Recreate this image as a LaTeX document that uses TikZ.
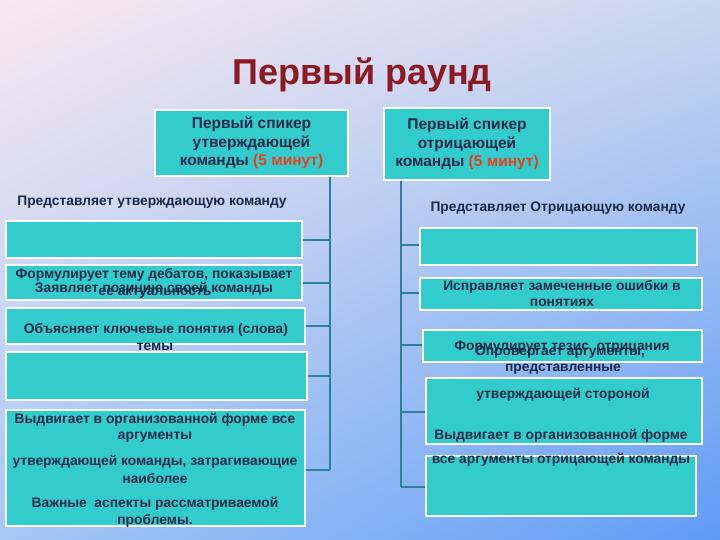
\documentclass[tikz,border=0pt]{standalone}
\usepackage{fontspec}
\setmainfont{Liberation Sans}
\usetikzlibrary{shadings}
\definecolor{boxc}{HTML}{33CCCC}
\definecolor{ink}{HTML}{1A2A4A}
\definecolor{linec}{HTML}{2E7F9A}
\definecolor{redc}{HTML}{E8401C}
\definecolor{titlec}{HTML}{8B1A22}
\definecolor{bgul}{RGB}{250,232,240}
\definecolor{bgur}{RGB}{200,215,240}
\definecolor{bgll}{RGB}{165,200,245}
\definecolor{bglr}{RGB}{95,155,245}
\begin{document}
\begin{tikzpicture}[x=1pt,y=-1pt,
  box/.style={draw=white,line width=1.5pt,fill=boxc},
  txt/.style={font=\bfseries\fontsize{13.8}{16}\selectfont,text=ink,inner sep=0pt},
  hdr/.style={box,font=\bfseries\fontsize{15.5}{18.5}\selectfont,text=ink,align=center},
  ln/.style={draw=linec,line width=1.5pt}]
\useasboundingbox (0,0) rectangle (720,540);
\shade[upper left=bgul,upper right=bgur,lower left=bgll,lower right=bglr] (0,0) rectangle (720,540);
\node[font=\bfseries\fontsize{36}{40}\selectfont,text=titlec] (title) at (362,75) {Первый раунд};
% headers
\node[hdr,minimum width=193,minimum height=66] (hl) at (251.5,143) {Первый спикер\\утверждающей\\команды \textcolor{redc}{(5 минут)}};
\node[hdr,minimum width=166,minimum height=72,inner sep=1pt] (hr) at (467,144) {Первый спикер\\отрицающей\\команды \textcolor{redc}{(5 минут)}};
% left boxes
\node[box,minimum width=296,minimum height=37] (l1) at (154,239.5) {};
\node[box,minimum width=296,minimum height=35] (l2) at (154,282.5) {};
\node[box,minimum width=299,minimum height=36] (l3) at (155.5,326) {};
\node[box,minimum width=301,minimum height=48] (l4) at (156.5,376) {};
\node[box,minimum width=299,minimum height=116] (l5) at (155.5,468) {};
% right boxes
\node[box,minimum width=277,minimum height=37] (r1) at (558.5,246.5) {};
\node[box,minimum width=282,minimum height=32] (r2) at (561,294) {};
\node[box,minimum width=279,minimum height=32] (r3) at (562.5,346) {};
\node[box,minimum width=276,minimum height=66] (r4) at (564,411) {};
\node[box,minimum width=270,minimum height=60] (r5) at (561,486) {};
% connectors
\draw[ln] (hl.south -| 330,0) -- (330,470);
\foreach \n/\y in {l1/240,l2/283,l3/326,l4/376,l5/470}
  \draw[ln] (330,\y) -- (\n.east |- 0,\y);
\draw[ln] (hr.south -| 401,0) -- (401,487);
\foreach \n/\y in {r1/245,r2/293,r3/345,r4/412,r5/487}
  \draw[ln] (401,\y) -- (\n.west |- 0,\y);
% left texts
\node[txt] (t1) at (152,202) {Представляет утверждающую команду};
\node[txt] (t2) at (154,275) {Формулирует тему дебатов, показывает};
\node[txt] (t3) at (155,293) {ее актуальность};
\node[txt] (t4) at (154,289) {Заявляет позицию своей команды};
\node[txt] (t5) at (156,330) {Объясняет ключевые понятия (слова)};
\node[txt] (t6) at (155,347) {темы};
\node[txt] (t7) at (155,420) {Выдвигает в организованной форме все};
\node[txt] (t8) at (155,437) {аргументы};
\node[txt] (t9) at (155,462) {утверждающей команды, затрагивающие};
\node[txt] (t10) at (155,479) {наиболее};
\node[txt] (t11) at (155,504) {Важные \ аспекты рассматриваемой};
\node[txt] (t12) at (155,521) {проблемы.};
% right texts
\node[txt] (u1) at (558,208) {Представляет Отрицающую команду};
\node[txt] (u2) at (562,287) {Исправляет замеченные ошибки в};
\node[txt] (u3) at (562,303) {понятиях};
\node[txt] (u4) at (562,347) {Формулирует тезис \ отрицания};
\node[txt] (u5) at (560,352) {Опровергает аргументы,};
\node[txt] (u6) at (563,369) {представленные};
\node[txt] (u7) at (563,395) {утверждающей стороной};
\node[txt] (u8) at (561,436) {Выдвигает в организованной форме};
\node[txt] (u9) at (561,460) {все аргументы отрицающей команды};
\end{tikzpicture}
\end{document}
